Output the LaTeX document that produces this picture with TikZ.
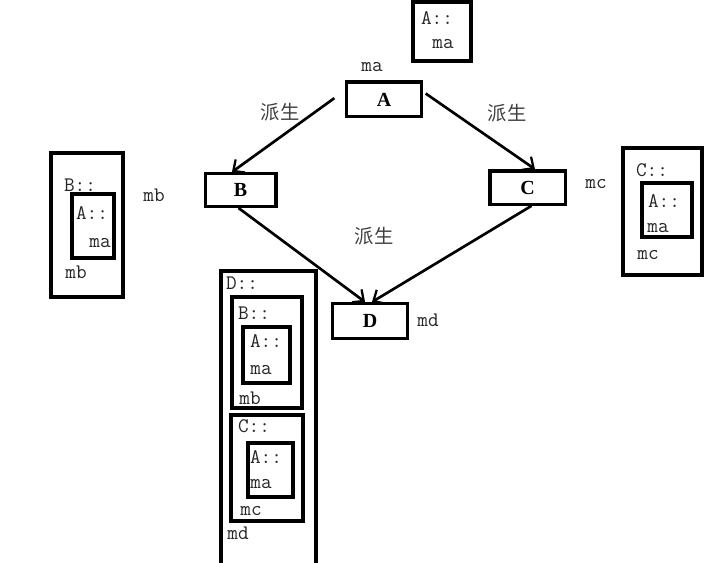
\documentclass[tikz,border=0pt]{standalone}
\usepackage{fontspec}
\setmainfont{Liberation Serif}
\newfontfamily\cjk{Noto Sans CJK SC}
\usetikzlibrary{arrows.meta}

\begin{document}
\begin{tikzpicture}[x=0.75pt, y=-0.75pt,
  cls/.style={draw, line width=2.5pt, inner sep=0pt, font=\fontsize{15}{16}\selectfont\bfseries, minimum width=#1},
  frame/.style={draw, line width=2.5pt},
  txt/.style={inner sep=0pt, font=\ttfamily\fontsize{15.5}{17}\selectfont, text=black!85},
  der/.style={inner sep=0pt, font=\cjk\fontsize{14.5}{16}\selectfont, text=black!75},
  arr/.style={line width=2pt, -{Straight Barb[length=6.5pt,width=12pt,line width=1.7pt]}}]
\useasboundingbox (0,0) rectangle (720,563);
% classes
\node[cls=56pt, minimum height=26pt] (A) at (384,99.5) {A};
\node[cls=53pt, minimum height=24.5pt] (B) at (240.5,190) {B};
\node[cls=56.5pt, minimum height=25pt] (C) at (527.5,187.5) {C};
\node[cls=56.5pt, minimum height=26pt] (D) at (370,321) {D};
\draw[arr] ([xshift=-8pt,yshift=1pt]A.west) -- ([xshift=-6.4pt]B.north);
\draw[arr] ([xshift=2pt,yshift=4.5pt]A.east) -- ([xshift=5.6pt]C.north);
\draw[arr] ([xshift=-1.5pt]B.south) -- ([xshift=-3.7pt]D.north);
\draw[arr] ([xshift=3pt]C.south) -- ([xshift=1.5pt]D.north);
\node[der] (d1) at (280,112) {派生};
\node[der] (d2) at (507,113) {派生};
\node[der] (d3) at (374,236) {派生};
\node[txt] (ma) at (372,67) {ma};
\node[txt] (mb) at (154,195) {mb};
\node[txt] (mc) at (596,184) {mc};
\node[txt] (md) at (428,320) {md};
% layout of A
\draw[frame] (413,2) rectangle (471,61);
\node[txt] at (437,18) {A::};
\node[txt] at (443,44) {ma};
% layout of B
\draw[frame] (51,153) rectangle (123,297);
\draw[frame] (72,194) rectangle (114,258);
\node[txt] at (80,185) {B::};
\node[txt] at (92,213) {A::};
\node[txt] at (100,243) {ma};
\node[txt] at (76,272) {mb};
% layout of C
\draw[frame] (623,148) rectangle (702,275);
\draw[frame] (642,183) rectangle (692,237);
\node[txt] at (652,170) {C::};
\node[txt] at (664,201) {A::};
\node[txt] at (658,228) {ma};
\node[txt] at (648,255) {mc};
% layout of D
\draw[frame] (221,566) -- (221,271) -- (316,271) -- (316,566);
\draw[frame] (232,297) rectangle (302,408);
\draw[frame] (243,327) rectangle (290,383);
\draw[frame] (231,415) rectangle (303,521);
\draw[frame] (248,443) rectangle (293,497);
\node[txt] at (242,283) {D::};
\node[txt] at (254,313) {B::};
\node[txt] at (266,341) {A::};
\node[txt] at (261,370) {ma};
\node[txt] at (250,398) {mb};
\node[txt] at (254,426) {C::};
\node[txt] at (266,457) {A::};
\node[txt] at (261,484) {ma};
\node[txt] at (251,511) {mc};
\node[txt] at (238,533) {md};
\end{tikzpicture}
\end{document}
